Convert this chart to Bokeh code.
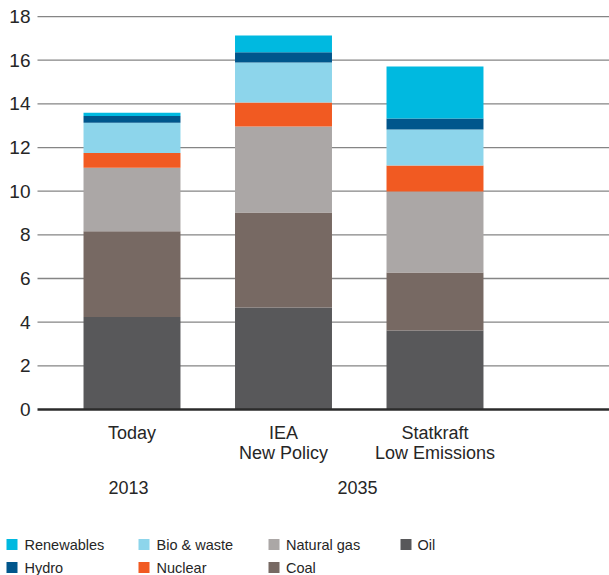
from bokeh.plotting import figure
from bokeh.models import Range1d, ColumnDataSource
from bokeh.embed import file_html
from bokeh.resources import INLINE
from bokeh.core.properties import value

# ---- data ----
scenarios = ["Today", "IEA New Policy", "Statkraft Low Emissions"]
label_line1 = ["Today", "IEA", "Statkraft"]
label_line2 = ["New Policy", "Low Emissions"]
years = ["2013", "2035"]
series = ["Oil", "Coal", "Natural gas", "Nuclear", "Bio & waste", "Hydro", "Renewables"]
oil = [4.24, 4.67, 3.62]
coal = [3.93, 4.35, 2.66]
natural_gas = [2.90, 3.94, 3.71]
nuclear = [0.68, 1.10, 1.19]
bio_waste = [1.38, 1.84, 1.65]
hydro = [0.32, 0.46, 0.50]
renewables = [0.14, 0.77, 2.38]
y_ticks = [0, 2, 4, 6, 8, 10, 12, 14, 16, 18]
y_tick_labels = [str(t) for t in y_ticks]

colors = {
    "Oil": "#58585A",
    "Coal": "#776963",
    "Natural gas": "#ABA7A6",
    "Nuclear": "#F15A22",
    "Bio & waste": "#8DD5EB",
    "Hydro": "#00568C",
    "Renewables": "#00B9E0",
}
legend_rows = [["Renewables", "Bio & waste", "Natural gas", "Oil"],
               ["Hydro", "Nuclear", "Coal"]]

FONT = "Liberation Sans"
TXT = "#262626"

W, H = 609, 575
UNIT = 151.5          # px per category step
PPU = 21.83           # px per y unit
CX0 = 131.5           # px of first category centre
ZY = 409              # px of y = 0


def dx(px):
    return (px - CX0) / UNIT


def dy(py):
    return (ZY - py) / PPU


xs = [0, 1, 2]
data = {"x": xs, "Oil": oil, "Coal": coal, "Natural gas": natural_gas,
        "Nuclear": nuclear, "Bio & waste": bio_waste, "Hydro": hydro,
        "Renewables": renewables}
src = ColumnDataSource(data)

p = figure(width=W, height=H, output_backend="svg", toolbar_location=None,
           x_range=Range1d(dx(0), dx(W)), y_range=Range1d(dy(H), dy(0)),
           x_axis_location=None, y_axis_location=None,
           min_border=0, min_border_left=0, min_border_right=0,
           min_border_top=0, min_border_bottom=0)
p.outline_line_color = None
p.grid.visible = False

# gridlines (y > 0)
grid_y = y_ticks[1:]
p.segment(x0=[dx(37)] * len(grid_y), x1=[dx(W)] * len(grid_y), y0=grid_y, y1=grid_y,
          line_color="#858585", line_width=1.3)

# y tick labels
p.text(x=[dx(30)] * len(y_ticks), y=y_ticks, text=y_tick_labels,
       text_align="right", text_baseline="middle", text_font=value(FONT),
       text_font_size="19px", text_color=TXT)

p.vbar_stack(series, x="x", width=0.64, source=src,
             color=[colors[s] for s in series], line_color=None)

# zero baseline
p.segment(x0=[dx(37)], x1=[dx(W)], y0=[0], y1=[0],
          line_color="#2b2b2b", line_width=2.5)

# category labels
p.text(x=xs, y=[dy(432)] * 3, text=label_line1, text_align="center",
       text_baseline="middle", text_font=value(FONT), text_font_size="18px",
       text_color=TXT)
p.text(x=xs[1:], y=[dy(452.5)] * 2, text=label_line2, text_align="center",
       text_baseline="middle", text_font=value(FONT), text_font_size="18px",
       text_color=TXT)
p.text(x=[dx(128), dx(357)], y=[dy(486.5)] * 2, text=years, text_align="center",
       text_baseline="middle", text_font=value(FONT), text_font_size="18px",
       text_color=TXT)

# legend
col_sq = [11.5, 143.5, 273.5, 405.5]
col_tx = [24, 156, 285.5, 417]
row_py = [544, 567]
sq_x, sq_y, sq_c, tx, ty, tt = [], [], [], [], [], []
for r, row in enumerate(legend_rows):
    for c, name in enumerate(row):
        sq_x.append(dx(col_sq[c])); sq_y.append(dy(row_py[r])); sq_c.append(colors[name])
        tx.append(dx(col_tx[c])); ty.append(dy(row_py[r] + 0.5)); tt.append(name)
p.rect(x=sq_x, y=sq_y, width=11, height=11, width_units="screen", height_units="screen",
       fill_color=sq_c, line_color=None)
p.text(x=tx, y=ty, text=tt, text_baseline="middle", text_align="left",
       text_font=value(FONT), text_font_size="14.5px", text_color=TXT)

open("out.html", "w").write(file_html(p, INLINE))
